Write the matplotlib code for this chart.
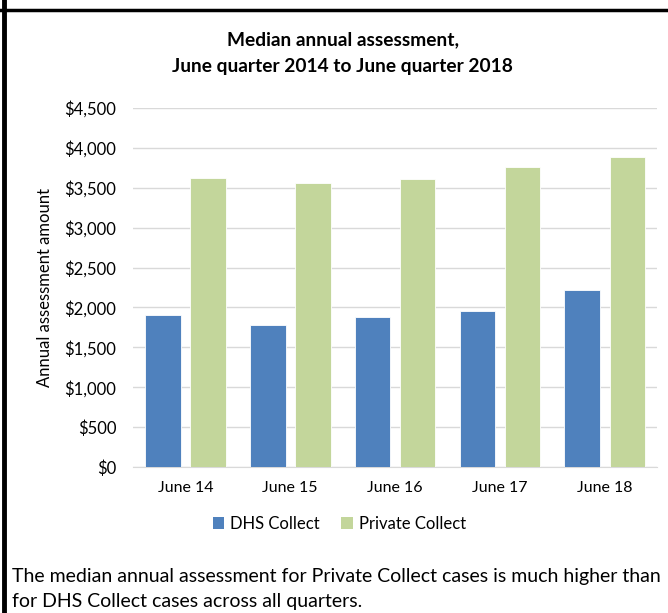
import matplotlib
matplotlib.use("Agg")
import matplotlib.pyplot as plt
from matplotlib.lines import Line2D
from matplotlib.patches import Patch
import numpy as np

plt.rcParams['font.family'] = ['Lato', 'DejaVu Sans']

quarters = ["June 14", "June 15", "June 16", "June 17", "June 18"]
dhs_collect = [1900, 1780, 1875, 1960, 2220]
private_collect = [3625, 3560, 3610, 3755, 3885]
series_names = ["DHS Collect", "Private Collect"]
yticks = [0, 500, 1000, 1500, 2000, 2500, 3000, 3500, 4000, 4500]

c_dhs = "#4F81BD"
c_priv = "#C3D69B"

fig = plt.figure(figsize=(6.68, 6.13), dpi=100)
ax = fig.add_axes([0.199, 0.238, 0.785, 0.586])

x = np.arange(len(quarters))
w = 0.34
off = 0.215
ax.bar(x - off, dhs_collect, w, color=c_dhs, edgecolor="white", linewidth=0.6, zorder=3)
ax.bar(x + off, private_collect, w, color=c_priv, edgecolor="white", linewidth=0.6, zorder=3)

ax.set_xlim(-0.5, len(quarters) - 0.5)
ax.set_ylim(0, 4500)
ax.set_yticks(yticks)
ax.set_yticklabels(["${:,}".format(v) for v in yticks])
ax.set_xticks(x)
ax.set_xticklabels(quarters)
ax.tick_params(axis="both", length=0, labelsize=11.5, colors="black")
ax.tick_params(axis="y", labelsize=12, pad=12)
ax.tick_params(axis="x", pad=10)
ax.grid(axis="y", color="#D9D9D9", linewidth=1, zorder=0)
for s in ["top", "right", "left"]:
    ax.spines[s].set_visible(False)
ax.spines["bottom"].set_color("#D9D9D9")

ax.set_ylabel("Annual assessment amount", fontsize=12)
ax.yaxis.set_label_coords(-0.152, 0.5)

fig.text(0.513, 0.935, "Median annual assessment,", ha="center", va="center",
         fontsize=13.8, fontweight="bold")
fig.text(0.513, 0.891, "June quarter 2014 to June quarter 2018", ha="center", va="center",
         fontsize=13.8, fontweight="bold")

handles = [Patch(facecolor=c_dhs), Patch(facecolor=c_priv)]
fig.legend(handles, series_names, loc="center", bbox_to_anchor=(0.508, 0.146),
           ncol=2, frameon=False, fontsize=12, handlelength=0.7, handleheight=0.7,
           handletextpad=0.35, columnspacing=1.3)

fig.text(0.018, 0.059, "The median annual assessment for Private Collect cases is much higher than",
         ha="left", va="center", fontsize=14)
fig.text(0.018, 0.018, "for DHS Collect cases across all quarters.",
         ha="left", va="center", fontsize=14)

# black frame lines at left and top of the page section
fig.add_artist(Line2D([0.0067, 0.0067], [0, 1], transform=fig.transFigure, color="black", linewidth=3.5))
fig.add_artist(Line2D([0, 1], [0.984, 0.984], transform=fig.transFigure, color="black", linewidth=2.5))

fig.savefig("out.png", dpi=100)
